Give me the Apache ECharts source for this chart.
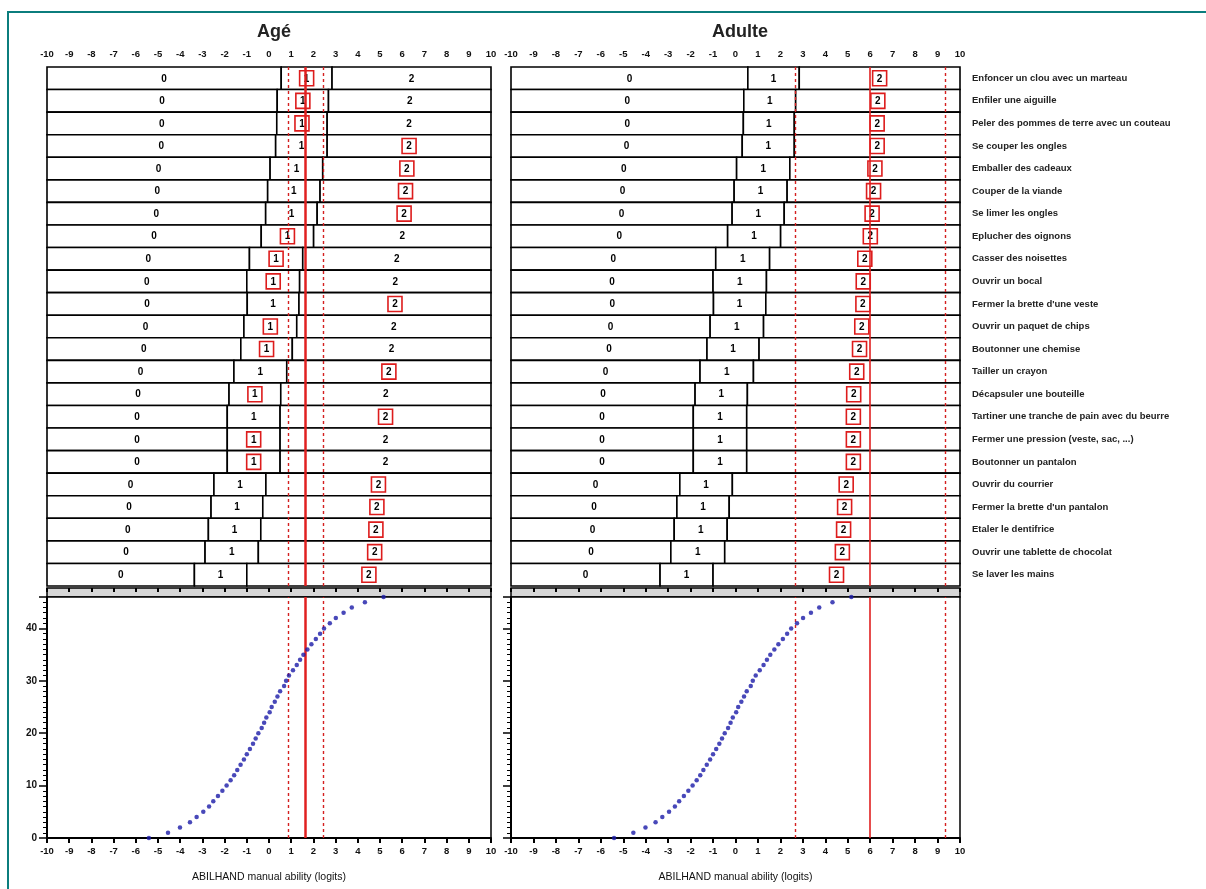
<!DOCTYPE html>
<html>
<head>
<meta charset="utf-8">
<script src="https://cdn.jsdelivr.net/npm/echarts@6/dist/echarts.min.js"></script>
<style>
  html, body { margin: 0; padding: 0; background: #fff; overflow: hidden; }
  #frame { position: absolute; left: 7px; top: 11px; width: 1300px; height: 1000px; border: 2px solid #0b7d7d; }
  #main { position: absolute; left: 0; top: 0; width: 1206px; height: 889px; }
</style>
</head>
<body>
<div id="frame"></div>
<div id="main"></div>
<script>
// item names, hardest items at the top
const tasks = [
  "Enfoncer un clou avec un marteau", "Enfiler une aiguille", "Peler des pommes de terre avec un couteau",
  "Se couper les ongles", "Emballer des cadeaux", "Couper de la viande", "Se limer les ongles",
  "Eplucher des oignons", "Casser des noisettes", "Ouvrir un bocal", "Fermer la brette d'une veste",
  "Ouvrir un paquet de chips", "Boutonner une chemise", "Tailler un crayon", "Décapsuler une bouteille",
  "Tartiner une tranche de pain avec du beurre", "Fermer une pression (veste, sac, ...)",
  "Boutonner un pantalon", "Ouvrir du courrier", "Fermer la brette d'un pantalon", "Etaler le dentifrice",
  "Ouvrir une tablette de chocolat", "Se laver les mains"
];
// step thresholds 0->1 and 1->2 (logits)
const step1 = [0.55, 0.37, 0.35, 0.3, 0.05, -0.06, -0.15, -0.35, -0.88, -1.0, -0.98, -1.13, -1.27,
  -1.58, -1.8, -1.88, -1.88, -1.88, -2.48, -2.61, -2.73, -2.88, -3.36];
const step2 = [2.84, 2.68, 2.62, 2.62, 2.42, 2.3, 2.17, 2.01, 1.52, 1.38, 1.35, 1.25, 1.05,
  0.8, 0.53, 0.5, 0.5, 0.5, -0.14, -0.28, -0.37, -0.48, -1.0];
// observed answers (boxed in red)
const ageAnswers = [1, 1, 1, 2, 2, 2, 2, 1, 1, 1, 2, 1, 1, 2, 1, 2, 1, 1, 2, 2, 2, 2, 2];
const adultAnswers = [2, 2, 2, 2, 2, 2, 2, 2, 2, 2, 2, 2, 2, 2, 2, 2, 2, 2, 2, 2, 2, 2, 2];
// person measure and confidence bounds
const ageMeasure = [0.85, 1.62, 2.45];
const adultMeasure = [2.65, 6.0, 9.35];
// measure for each raw score 0..46
const scoreMeasure = [-5.41, -4.55, -4.01, -3.56, -3.26, -2.96, -2.7, -2.51, -2.3, -2.1, -1.91, -1.73,
  -1.57, -1.43, -1.28, -1.13, -1.0, -0.86, -0.72, -0.6, -0.48, -0.33, -0.22, -0.12, 0.03, 0.12, 0.26,
  0.38, 0.5, 0.68, 0.77, 0.9, 1.08, 1.25, 1.4, 1.55, 1.73, 1.91, 2.11, 2.3, 2.48, 2.74, 3.01, 3.36,
  3.73, 4.32, 5.16];
const xTicks = ["-10", "-9", "-8", "-7", "-6", "-5", "-4", "-3", "-2", "-1", "0", "1", "2", "3", "4", "5", "6", "7", "8", "9", "10"];

const FONT = '"Liberation Sans", Arial, sans-serif';
const rowData = tasks.map((t, i) => [i, step1[i], step2[i]]);
const curveData = scoreMeasure.map((x, s) => [x, s]);

function rowRenderer(answers) {
  return function (params, api) {
    const row = api.value(0);
    const h = api.size([0, 1])[1];
    const y = api.coord([0, row])[1] - h / 2;
    const xs = [-10, api.value(1), api.value(2), 10].map(v => api.coord([v, row])[0]);
    const children = [];
    for (let k = 0; k < 3; k++) {
      children.push({
        type: 'rect',
        shape: { x: xs[k], y: y, width: xs[k + 1] - xs[k], height: h },
        style: { fill: '#fff', stroke: '#000', lineWidth: 1.6 }
      });
    }
    for (let k = 0; k < 3; k++) {
      const cx = (xs[k] + xs[k + 1]) / 2, cy = y + h / 2;
      children.push({
        type: 'text',
        style: { text: String(k), x: cx, y: cy + 0.5, align: 'center', verticalAlign: 'middle',
          textAlign: 'center', textVerticalAlign: 'middle', font: 'bold 10px ' + FONT, fill: '#000' }
      });
      if (answers[row] === k) {
        children.push({
          type: 'rect',
          shape: { x: cx - 7, y: cy - 7.5, width: 14, height: 15 },
          style: { fill: 'none', stroke: '#dd1c1c', lineWidth: 1.6 }
        });
      }
    }
    return { type: 'group', children: children };
  };
}

function redLines(m, solidWidth) {
  return {
    symbol: 'none', silent: true, animation: false,
    label: { show: false },
    data: [
      { xAxis: m[0], lineStyle: { type: [3, 3], width: 1.4, color: '#d42020' } },
      { xAxis: m[1], lineStyle: { type: 'solid', width: solidWidth, color: '#e02020' } },
      { xAxis: m[2], lineStyle: { type: [3, 3], width: 1.4, color: '#d42020' } }
    ]
  };
}

const panels = [{ left: 47, width: 444 }, { left: 511, width: 449 }];
const grids = [], xAxes = [], yAxes = [], series = [];

panels.forEach((p, i) => {
  const measure = i === 0 ? ageMeasure : adultMeasure;
  const answers = i === 0 ? ageAnswers : adultAnswers;
  // rows panel
  grids.push({ left: p.left, width: p.width, top: 67, height: 519 });
  // grey band
  grids.push({ left: p.left, width: p.width, top: 588, height: 9, show: true,
    backgroundColor: '#d6d6d6', borderColor: '#000', borderWidth: 1.5 });
  // score curve
  grids.push({ left: p.left, width: p.width, top: 597, height: 241, show: true,
    borderColor: '#000', borderWidth: 1.5, backgroundColor: '#fff' });
  const g = i * 3;

  xAxes.push({
    gridIndex: g, type: 'value', position: 'top', min: -10, max: 10, interval: 1,
    axisLine: { onZero: false, lineStyle: { color: '#000', width: 2 } },
    axisTick: { inside: true, length: 4, lineStyle: { color: '#000', width: 2 } },
    splitLine: { show: false },
    axisLabel: { margin: 8, fontSize: 9.5, fontWeight: 'bold', color: '#111', fontFamily: FONT,
      formatter: v => xTicks[v + 10] }
  });
  xAxes.push({
    gridIndex: g + 1, type: 'value', position: 'top', min: -10, max: 10, interval: 1,
    axisLine: { show: false, onZero: false },
    axisTick: { inside: true, length: 4, lineStyle: { color: '#000', width: 2 } },
    splitLine: { show: false }, axisLabel: { show: false }
  });
  xAxes.push({
    gridIndex: g + 2, type: 'value', position: 'bottom', min: -10, max: 10, interval: 1,
    name: 'ABILHAND manual ability (logits)', nameLocation: 'middle', nameGap: 34,
    nameTextStyle: { fontSize: 10.5, color: '#111', fontFamily: FONT },
    axisLine: { onZero: false, lineStyle: { color: '#000', width: 2 } },
    axisTick: { length: 5, lineStyle: { color: '#000', width: 2 } },
    splitLine: { show: false },
    axisLabel: { margin: 8, fontSize: 9.5, fontWeight: 'bold', color: '#111', fontFamily: FONT,
      formatter: v => xTicks[v + 10] }
  });

  yAxes.push({
    gridIndex: g, type: 'category', data: tasks, inverse: true,
    position: i === 0 ? 'left' : 'right',
    axisLine: { show: false }, axisTick: { show: false }, splitLine: { show: false },
    axisLabel: i === 0 ? { show: false } : {
      margin: 12, align: 'left', fontSize: 9.5, fontWeight: 'bold', color: '#222', fontFamily: FONT,
      interval: 0
    }
  });
  yAxes.push({ gridIndex: g + 1, type: 'value', min: 0, max: 1, show: false });
  yAxes.push({
    gridIndex: g + 2, type: 'value', min: 0, max: 46, interval: 10, position: 'left',
    axisLine: { onZero: false, lineStyle: { color: '#000', width: 2 } },
    axisTick: { length: 8, lineStyle: { color: '#000', width: 1.5 } },
    minorTick: { show: true, splitNumber: 10, length: 4, lineStyle: { color: '#000', width: 1 } },
    splitLine: { show: false },
    axisLabel: { show: i === 0, margin: 10, fontSize: 10, fontWeight: 'bold', color: '#111',
      fontFamily: FONT, showMaxLabel: false }
  });

  series.push({
    type: 'custom', xAxisIndex: g, yAxisIndex: g, z: 2,
    encode: { x: [1, 2], y: 0 },
    renderItem: rowRenderer(answers), data: rowData, animation: false
  });
  series.push({
    type: 'scatter', xAxisIndex: g, yAxisIndex: g, z: 5, data: [],
    markLine: redLines(measure, i === 0 ? 2.5 : 1.6)
  });
  series.push({
    type: 'scatter', xAxisIndex: g + 2, yAxisIndex: g + 2, z: 5,
    symbol: 'circle', symbolSize: 4.5, clip: false,
    itemStyle: { color: '#1a1aa8' },
    data: curveData,
    markLine: redLines(measure, i === 0 ? 2.5 : 1.6)
  });
});

const chart = echarts.init(document.getElementById('main'));
chart.setOption({
  animation: false,
  title: [
    { text: 'Agé', left: 269, top: 18, textAlign: 'center',
      textStyle: { fontSize: 18, fontWeight: 'bold', color: '#222', fontFamily: FONT } },
    { text: 'Adulte', left: 735, top: 18, textAlign: 'center',
      textStyle: { fontSize: 18, fontWeight: 'bold', color: '#222', fontFamily: FONT } }
  ],
  grid: grids,
  xAxis: xAxes,
  yAxis: yAxes,
  series: series
});
</script>
</body>
</html>
